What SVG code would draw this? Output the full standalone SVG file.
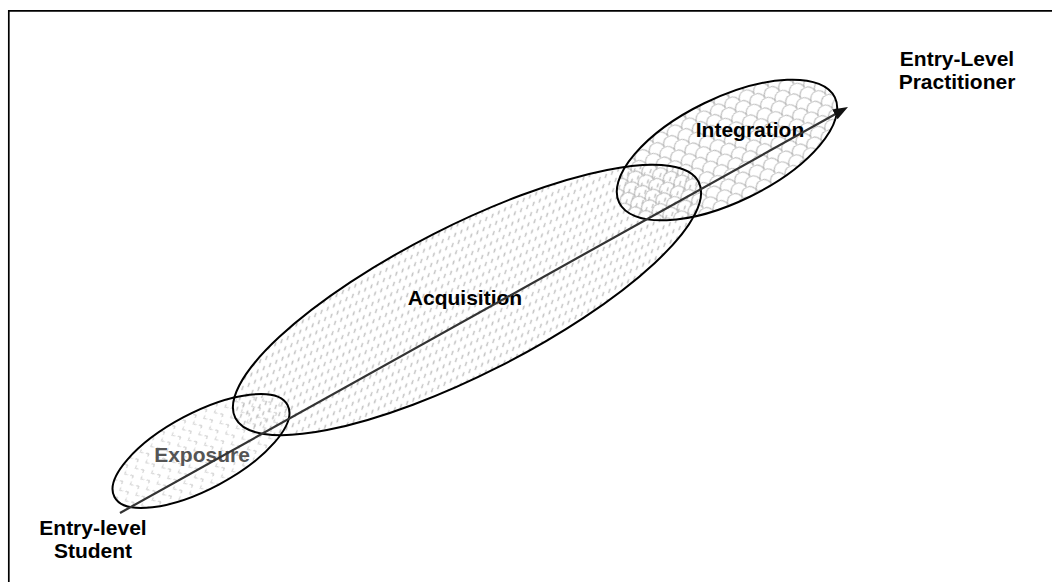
<svg xmlns="http://www.w3.org/2000/svg" width="1052" height="582" viewBox="0 0 1052 582">
<style>
.lbl{font-family:"Liberation Sans",Arial,sans-serif;font-weight:bold;font-size:21px;fill:#000;text-anchor:middle}
.outline{fill:none;stroke:#000;stroke-width:2}
</style>
<defs>
<pattern id="divot" patternUnits="userSpaceOnUse" width="12" height="12">
<path d="M5 1.5 L3 3.5 L5 5.5 M7.5 7 L9.5 9 L7.5 11" fill="none" stroke="#b4b4b4" stroke-width="1"/>
</pattern>
<pattern id="dashdiag" patternUnits="userSpaceOnUse" width="7" height="8">
<path d="M1.5 6 L4.5 3" fill="none" stroke="#bdbdbd" stroke-width="1.2"/>
</pattern>
<pattern id="scales" patternUnits="userSpaceOnUse" width="16" height="16">
<path d="M0 8 A8 8 0 0 1 16 8 M-8 16 A8 8 0 0 1 8 16 M8 16 A8 8 0 0 1 24 16 M-8 0 A8 8 0 0 1 8 0 M8 0 A8 8 0 0 1 24 0" fill="none" stroke="#bcbcbc" stroke-width="1.1"/>
</pattern>
<marker id="arr" markerUnits="userSpaceOnUse" markerWidth="16" markerHeight="12" refX="11" refY="5.5" orient="auto">
<path d="M0 0 L15 5.5 L0 11 Z" fill="#111"/>
</marker>
</defs>
<path d="M8.8 582 V10.8 H1052" fill="none" stroke="#000" stroke-width="1.7"/>
<g id="fills">
<ellipse cx="201" cy="451" rx="98" ry="38" transform="rotate(-28 201 451)" fill="url(#divot)"/>
<ellipse cx="467" cy="300" rx="260" ry="74" transform="rotate(-27 467 300)" fill="url(#dashdiag)"/>
<ellipse cx="727" cy="150" rx="120" ry="52" transform="rotate(-26 727 150)" fill="url(#scales)"/>
</g>
<g id="exposure">
<ellipse class="outline" cx="201" cy="451" rx="98" ry="38" transform="rotate(-28 201 451)"/>
<text class="lbl" x="202" y="462" style="fill:#555">Exposure</text>
</g>
<g id="acquisition">
<ellipse class="outline" cx="467" cy="300" rx="260" ry="74" transform="rotate(-27 467 300)"/>
<text class="lbl" x="465" y="305">Acquisition</text>
</g>
<g id="integration">
<ellipse class="outline" cx="727" cy="150" rx="120" ry="52" transform="rotate(-26 727 150)"/>
<text class="lbl" x="750" y="137">Integration</text>
</g>
<g id="connectors">
<line x1="120" y1="513" x2="844.5" y2="109" stroke="#333" stroke-width="2.2" marker-end="url(#arr)"/>
</g>
<g id="student">
<text class="lbl" x="93" y="535">Entry-level</text>
<text class="lbl" x="93" y="558">Student</text>
</g>
<g id="practitioner">
<text class="lbl" x="957" y="66">Entry-Level</text>
<text class="lbl" x="957" y="89">Practitioner</text>
</g>
</svg>
